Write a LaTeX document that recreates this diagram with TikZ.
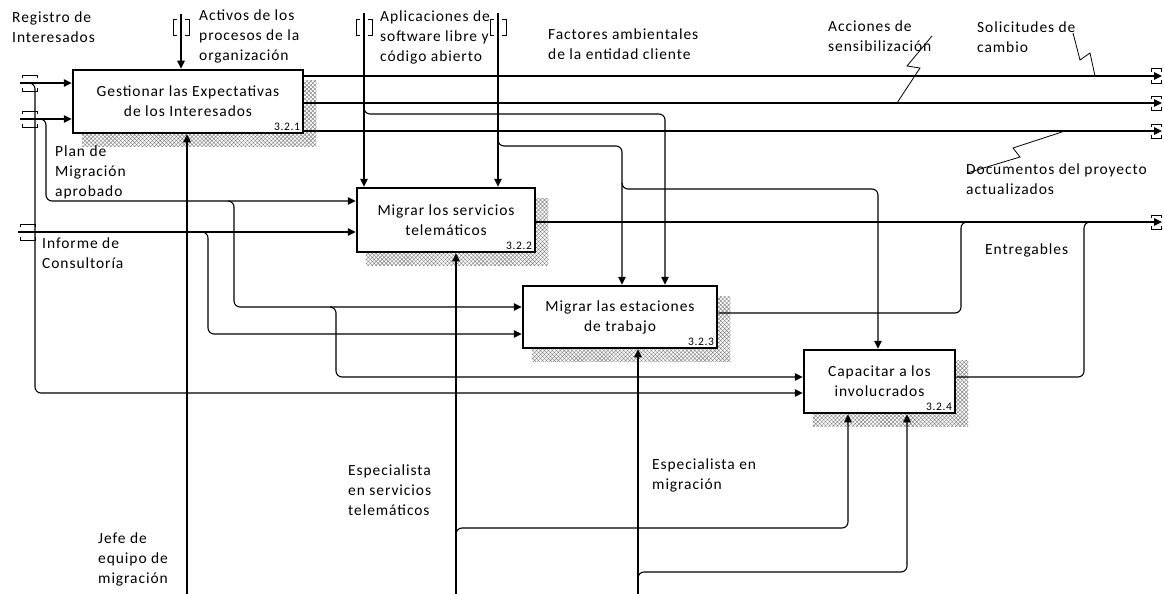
\documentclass[tikz,border=0pt]{standalone}
\usepackage{fontspec}
\setmainfont{Carlito}[LetterSpace=6]
\usetikzlibrary{arrows.meta,calc,patterns.meta,backgrounds}
\newcommand\IdefText{\fontsize{15.5}{20}\selectfont}
\newcommand\IdefNum{\fontsize{11.5}{13}\selectfont}
\begin{document}
\begin{tikzpicture}[x=1pt,y=-1pt,
  box/.style={draw, line width=2.5pt, fill=white, align=center, inner sep=0pt, font=\IdefText},
  idnum/.style={anchor=south east, inner sep=1pt, fill=white, font=\IdefNum},
  arr/.style={line width=1.1pt, -{Triangle[length=8pt,width=7.5pt]}},
  ln/.style={line width=1.1pt},
  lbl/.style={anchor=north west, inner sep=0pt, align=left, font=\IdefText},
  shadowfill/.style={pattern={Hatch[angle=45,distance=2.8pt,line width=0.45pt]}, pattern color=black!50},
  htun/.pic={\draw[line width=1pt] (-7.5,-5)--(-7.5,-8)--(7.5,-8)--(7.5,-5) (-7.5,5)--(-7.5,8)--(7.5,8)--(7.5,5);},
  htunr/.pic={\draw[line width=1pt] (-5,-4)--(-5,-7)--(5,-7)--(5,-4) (-5,4)--(-5,7)--(5,7)--(5,4);},
  vtun/.pic={\draw[line width=1pt] (-4,-8)--(-8,-8)--(-8,8)--(-4,8) (4,-8)--(8,-8)--(8,8)--(4,8);},
  rc/.style={rounded corners=6pt}
]
\useasboundingbox (0,0) rectangle (1164,594);

% boxes
\node[box, minimum width=230pt, minimum height=63pt] (b1) at (188,101.5) {Gestionar las Expectativas\\de los Interesados};
\node[box, minimum width=178pt, minimum height=64pt] (b2) at (446,220) {Migrar los servicios\\telemáticos};
\node[box, minimum width=194pt, minimum height=62pt] (b3) at (620,317) {Migrar las estaciones\\de trabajo};
\node[box, minimum width=151pt, minimum height=63pt] (b4) at (879.5,381.5) {Capacitar a los\\involucrados};
\node[idnum] (n1) at ($(b1.south east)+(-3,-2.5)$) {3.2.1};
\node[idnum] (n2) at ($(b2.south east)+(-3,-2.5)$) {3.2.2};
\node[idnum] (n3) at ($(b3.south east)+(-3,-2.5)$) {3.2.3};
\node[idnum] (n4) at ($(b4.south east)+(-3,-2.5)$) {3.2.4};

\begin{scope}[on background layer]
  \foreach \b in {b1,b2,b3,b4}{
    \fill[shadowfill] ($(\b.north west)+(10,12)$) rectangle ($(\b.south east)+(12,12)$);
  }
\end{scope}

% free ends
\coordinate (rg) at (20,83);
\coordinate (pl) at (20,119);
\coordinate (inf) at (18,232);
\coordinate (act) at (181,14);
\coordinate (apl1) at (364,13);
\coordinate (apl2) at (498,13);
\coordinate (jefe) at (187,594);
\coordinate (esp1) at (456,594);
\coordinate (esp2) at (638,594);
\coordinate (o1) at (1162,76);
\coordinate (o2) at (1162,103);
\coordinate (o3) at (1162,131);
\coordinate (o4) at (1162,222);
% bends
\coordinate (rgv) at (35,393);
\coordinate (plv) at (46,201);
\coordinate (plv2) at (234,307);
\coordinate (plv3) at (336,377);
\coordinate (infv) at (208,334);
\coordinate (a1h) at (665,114);
\coordinate (a2h) at (622,146);
\coordinate (a3h) at (878,189);
\coordinate (e1h) at (848,528);
\coordinate (e2h) at (907,572);
\coordinate (m3) at (961,313);
\coordinate (m4) at (1084,377);

% tunnels
\pic at (29.5,83) {htun};
\pic at (29.5,119) {htun};
\pic at (28,232) {htun};
\pic at (181,28) {vtun};
\pic at (364,28) {vtun};
\pic at (498,28) {vtun};
\foreach \y in {76,103,131,222} { \pic at (1156,\y) {htunr}; }

% inputs
\draw[arr] (rg) -- (rg -| b1.west);
\draw[arr, rc] (29,83) -- (rgv |- rg) -- (rgv) -- (rgv -| b4.west);
\draw[arr] (pl) -- (pl -| b1.west);
\draw[arr, rc] (40,119) -- (plv |- pl) -- (plv) -- (plv -| b2.west);
\draw[arr, rc] (228,201) -- (plv2 |- plv) -- (plv2) -- (plv2 -| b3.west);
\draw[arr, rc] (330,307) -- (plv3 |- plv2) -- (plv3) -- (plv3 -| b4.west);
\draw[arr] (inf) -- (inf -| b2.west);
\draw[arr, rc] (202,232) -- (infv |- inf) -- (infv) -- (infv -| b3.west);

% controls
\draw[arr] (act) -- (act |- b1.north);
\draw[arr] (apl1) -- (apl1 |- b2.north);
\draw[arr] (apl2) -- (apl2 |- b2.north);
\draw[arr, rc] (364,107) -- (apl1 |- a1h) -- (a1h) -- (a1h |- b3.north);
\draw[arr, rc] (498,140) -- (apl2 |- a2h) -- (a2h) -- (a2h |- b3.north);
\draw[arr, rc] (622,183) -- (a2h |- a3h) -- (a3h) -- (a3h |- b4.north);

% mechanisms
\draw[arr] (jefe) -- (jefe |- b1.south);
\draw[arr] (esp1) -- (esp1 |- b2.south);
\draw[arr, rc] (456,534) -- (esp1 |- e1h) -- (e1h) -- (e1h |- b4.south);
\draw[arr] (esp2) -- (esp2 |- b3.south);
\draw[arr, rc] (638,578) -- (esp2 |- e2h) -- (e2h) -- (e2h |- b4.south);

% outputs
\draw[arr] (b1.east |- o1) -- (o1);
\draw[arr] (b1.east |- o2) -- (o2);
\draw[arr] (b1.east |- o3) -- (o3);
\draw[arr] (b2.east |- o4) -- (o4);
\draw[ln, rc] (b3.east |- m3) -- (m3) -- (m3 |- o4) -- ++(6,0);
\draw[ln, rc] (b4.east |- m4) -- (m4) -- (m4 |- o4) -- ++(6,0);

% leaders
\draw[line width=0.8pt] (932,36) -- (907,66) -- (920,68) -- (897,103);
\draw[line width=0.8pt] (1073,33) -- (1080,60) -- (1090,53) -- (1095,76);
\draw[line width=0.8pt] (1065,131) -- (1013,148) -- (1020,157) -- (967,173);

% labels
\node[lbl] (l1) at (12,11.5) {Registro de\\Interesados};
\node[lbl] (l2) at (199,9.5) {Activos de los\\procesos de la\\organización};
\node[lbl] (l3) at (380,10.5) {Aplicaciones de\\software libre y\\código abierto};
\node[lbl] (l4) at (548,28.5) {Factores ambientales\\de la entidad cliente};
\node[lbl] (l5) at (828,20.5) {Acciones de\\sensibilización};
\node[lbl] (l6) at (977,21.5) {Solicitudes de\\cambio};
\node[lbl] (l7) at (966,163.5) {Documentos del proyecto\\actualizados};
\node[lbl] (l8) at (985,243.5) {Entregables};
\node[lbl] (l9) at (55,145.5) {Plan de\\Migración\\aprobado};
\node[lbl] (l10) at (42,237.5) {Informe de\\Consultoría};
\node[lbl] (l11) at (348,464.5) {Especialista\\en servicios\\telemáticos};
\node[lbl] (l12) at (652,458.5) {Especialista en\\migración};
\node[lbl] (l13) at (98,532.5) {Jefe de\\equipo de\\migración};
\end{tikzpicture}
\end{document}
